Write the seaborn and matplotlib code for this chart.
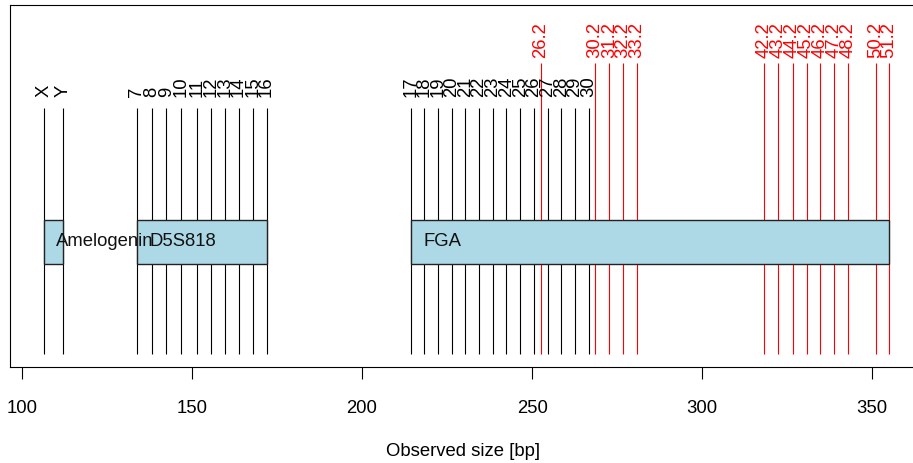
import matplotlib
matplotlib.use('Agg')
import matplotlib.pyplot as plt
import seaborn as sns

# Marker ranges and allele sizes (bp)
markers = ['Amelogenin', 'D5S818', 'FGA']

amel_alleles = ['X', 'Y']
amel_sizes = [106.4, 112.0]

d5_alleles = ['7', '8', '9', '10', '11', '12', '13', '14', '15', '16']
d5_sizes = [133.7, 138.1, 142.4, 146.9, 151.4, 155.6, 159.8, 163.7, 167.9, 171.9]

fga_alleles = ['17', '18', '19', '20', '21', '22', '23', '24', '25', '26',
               '27', '28', '29', '30']
fga_sizes = [214.3, 218.3, 222.4, 226.4, 230.4, 234.4, 238.4, 242.4, 246.5,
             250.6, 254.6, 258.6, 262.6, 266.8]

# virtual alleles (red)
fga_virtual = ['26.2', '30.2', '31.2', '32.2', '33.2', '42.2', '43.2', '44.2',
               '45.2', '46.2', '47.2', '48.2', '50.2', '51.2']
fga_virtual_sizes = [252.6, 268.5, 272.7, 276.8, 280.8, 318.2, 322.4, 326.6,
                     330.7, 334.7, 338.7, 343.0, 351.0, 354.9]

marker_start = [106.4, 133.7, 214.3]
marker_end = [112.0, 171.9, 354.9]

sns.set_theme(style='white')
plt.rcParams['font.family'] = ['Liberation Sans', 'DejaVu Sans']

fig = plt.figure(figsize=(9.13, 4.63), dpi=100)
ax = fig.add_axes([10 / 913, 96 / 463, 906 / 913, 362 / 463])

# y layout (plot units = pixels from bottom of the box)
line_bottom = 13
black_top = 259
red_top = 304
box_low, box_high = 103, 147
fs = 13.3

black_sizes = amel_sizes + d5_sizes + fga_sizes
black_labels = amel_alleles + d5_alleles + fga_alleles

ax.vlines(black_sizes, line_bottom, black_top, color='black', lw=0.8, zorder=2)
ax.vlines(fga_virtual_sizes, line_bottom, red_top, color='red', lw=0.8, zorder=2)

for s, lab in zip(black_sizes, black_labels):
    ax.text(s, black_top + 11, lab, rotation=90, ha='center', va='bottom',
            fontsize=fs, color='black')
for s, lab in zip(fga_virtual_sizes, fga_virtual):
    ax.text(s, red_top + 5, lab, rotation=90, ha='center', va='bottom',
            fontsize=fs, color='red')

widths = [e - s for s, e in zip(marker_start, marker_end)]
ax.barh([(box_low + box_high) / 2] * 3, widths, left=marker_start,
        height=box_high - box_low, color='lightblue', edgecolor='#222222',
        lw=1, zorder=3)
for s, name in zip(marker_start, markers):
    ax.annotate(name, (s, (box_low + box_high) / 2), xytext=(9, 0),
                textcoords='offset points', ha='left', va='center',
                fontsize=fs, color='#111111', zorder=4)

ax.set_xlim(96.47, 362.9)
ax.set_ylim(0, 362)
ax.set_xticks([100, 150, 200, 250, 300, 350])
ax.set_yticks([])
ax.tick_params(axis='x', bottom=True, length=8.6, width=0.8, color='black',
               pad=15, labelsize=fs, labelcolor='black')
ax.set_xlabel('Observed size [bp]', fontsize=fs, color='black', labelpad=19)
for sp in ax.spines.values():
    sp.set_color('black')
    sp.set_linewidth(0.8)

fig.savefig('out.png', dpi=100)
